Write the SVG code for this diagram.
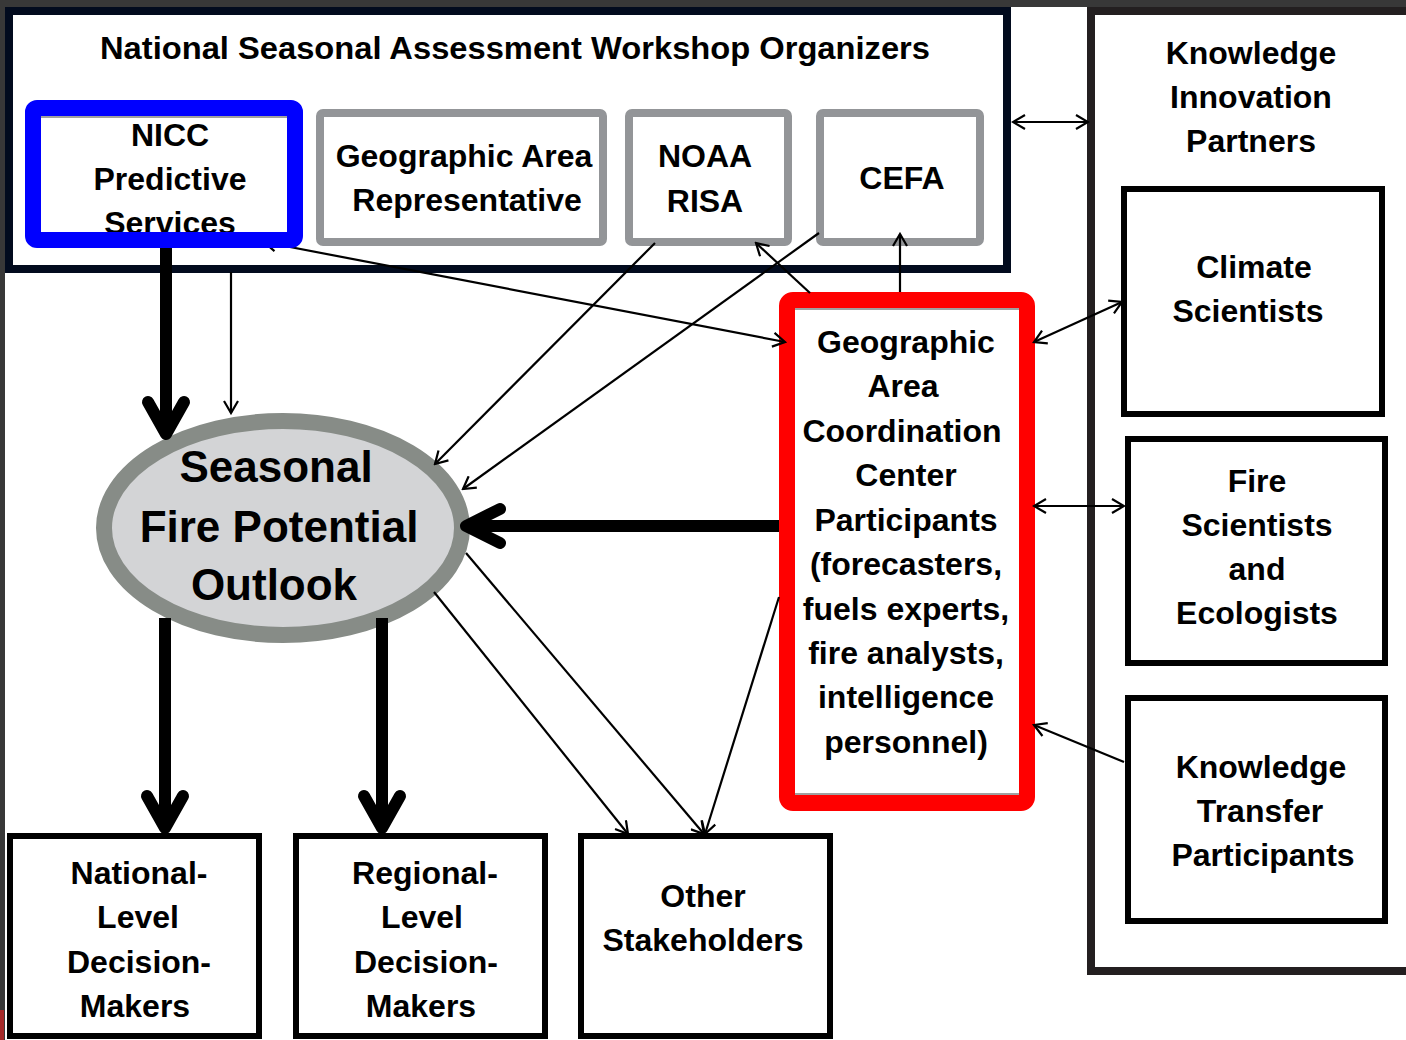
<svg xmlns="http://www.w3.org/2000/svg" width="1406" height="1040" viewBox="0 0 1406 1040">
<style>
.t{font-family:"Liberation Sans",Arial,sans-serif;font-weight:bold;font-size:32px;text-anchor:middle;fill:#000}
.big{font-size:44px}
.gray{fill:#fff;stroke:#939598;stroke-width:8}
.blk{fill:#fff;stroke:#000;stroke-width:6}
.thin{fill:none;stroke:#000;stroke-width:2.2}
.thick{fill:none;stroke:#000;stroke-width:12;stroke-linecap:round;stroke-linejoin:round}
.shaft{fill:none;stroke:#000;stroke-width:12}
</style>
<defs>
<marker id="ah" viewBox="-14 -8 16 16" refX="0" refY="0" markerWidth="16" markerHeight="16" markerUnits="userSpaceOnUse" orient="auto-start-reverse">
<path d="M-12,-7 L0,0 L-12,7" fill="none" stroke="#000" stroke-width="2.2"/>
</marker>
</defs>
<rect x="0" y="0" width="1406" height="1040" fill="#fff"/>
<rect x="0" y="0" width="1406" height="7" fill="#383838"/>
<rect x="0" y="0" width="5" height="1040" fill="#383838"/>
<rect x="0" y="1010" width="4" height="30" fill="#a52a2a"/>

<g id="organizers">
<rect x="9" y="11" width="998" height="258" fill="#fff" stroke="#020b1e" stroke-width="8"/>
<text class="t" x="515" y="59" font-size="33" textLength="830" lengthAdjust="spacingAndGlyphs">National Seasonal Assessment Workshop Organizers</text>
</g>

<g id="knowledge-innovation">
<rect x="1091" y="11" width="340" height="960" fill="#fff" stroke="#231f20" stroke-width="8"/>
<text class="t" x="1251" y="64">Knowledge</text>
<text class="t" x="1251" y="108">Innovation</text>
<text class="t" x="1251" y="152">Partners</text>
</g>

<g id="ga-rep">
<rect class="gray" x="320" y="113" width="283" height="129" rx="3"/>
<text class="t" x="464" y="167">Geographic Area</text>
<text class="t" x="467" y="211">Representative</text>
</g>
<g id="noaa-risa">
<rect class="gray" x="629" y="113" width="159" height="129" rx="3"/>
<text class="t" x="705" y="167">NOAA</text>
<text class="t" x="705" y="212">RISA</text>
</g>
<g id="cefa">
<rect class="gray" x="820" y="113" width="160" height="129" rx="3"/>
<text class="t" x="902" y="189">CEFA</text>
</g>

<g id="gacc">
<rect x="787" y="300" width="240" height="503" rx="6" fill="#fff" stroke="#ff0000" stroke-width="16"/>
<line x1="795" y1="309" x2="1019" y2="309" stroke="#a0a0a0" stroke-width="2"/>
<line x1="795" y1="794" x2="1019" y2="794" stroke="#a0a0a0" stroke-width="2"/>
<text class="t" x="906" y="353">Geographic</text>
<text class="t" x="903" y="397">Area</text>
<text class="t" x="902" y="442">Coordination</text>
<text class="t" x="906" y="486">Center</text>
<text class="t" x="906" y="531">Participants</text>
<text class="t" x="906" y="575">(forecasters,</text>
<text class="t" x="906" y="620">fuels experts,</text>
<text class="t" x="906" y="664">fire analysts,</text>
<text class="t" x="906" y="708">intelligence</text>
<text class="t" x="906" y="753">personnel)</text>
</g>

<g id="outlook">
<ellipse cx="283" cy="528" rx="179" ry="107" fill="#d3d4d6" stroke="#878c87" stroke-width="16"/>
<text class="t big" x="276" y="482">Seasonal</text>
<text class="t big" x="279" y="542">Fire Potential</text>
<text class="t big" x="274" y="600">Outlook</text>
</g>

<g id="climate">
<rect class="blk" x="1124" y="189" width="258" height="225"/>
<text class="t" x="1254" y="278">Climate</text>
<text class="t" x="1248" y="322">Scientists</text>
</g>
<g id="fire-sci">
<rect class="blk" x="1128" y="439" width="257" height="224"/>
<text class="t" x="1257" y="492">Fire</text>
<text class="t" x="1257" y="536">Scientists</text>
<text class="t" x="1257" y="580">and</text>
<text class="t" x="1257" y="624">Ecologists</text>
</g>
<g id="kt">
<rect class="blk" x="1128" y="698" width="257" height="223"/>
<text class="t" x="1261" y="778">Knowledge</text>
<text class="t" x="1260" y="822">Transfer</text>
<text class="t" x="1263" y="866">Participants</text>
</g>

<g id="national">
<rect class="blk" x="10" y="836" width="249" height="200"/>
<text class="t" x="139" y="884">National-</text>
<text class="t" x="138" y="928">Level</text>
<text class="t" x="139" y="973">Decision-</text>
<text class="t" x="135" y="1017">Makers</text>
</g>
<g id="regional">
<rect class="blk" x="296" y="836" width="249" height="200"/>
<text class="t" x="425" y="884">Regional-</text>
<text class="t" x="422" y="928">Level</text>
<text class="t" x="426" y="973">Decision-</text>
<text class="t" x="421" y="1017">Makers</text>
</g>
<g id="other">
<rect class="blk" x="581" y="836" width="249" height="200"/>
<text class="t" x="703" y="907">Other</text>
<text class="t" x="703" y="951">Stakeholders</text>
</g>

<g id="connectors">
<line class="thin" x1="231" y1="272" x2="231" y2="413" marker-end="url(#ah)"/>
<line class="thin" x1="655" y1="243" x2="435" y2="464" marker-end="url(#ah)"/>
<line class="thin" x1="819" y1="233" x2="463" y2="489" marker-end="url(#ah)"/>
<line class="thin" x1="264" y1="242" x2="785" y2="342" marker-start="url(#ah)" marker-end="url(#ah)"/>
<line class="thin" x1="810" y1="293" x2="756" y2="243" marker-end="url(#ah)"/>
<line class="thin" x1="900" y1="292" x2="900" y2="234" marker-end="url(#ah)"/>
<line class="thin" x1="1013" y1="122" x2="1088" y2="122" marker-start="url(#ah)" marker-end="url(#ah)"/>
<line class="thin" x1="1034" y1="342" x2="1122" y2="302" marker-start="url(#ah)" marker-end="url(#ah)"/>
<line class="thin" x1="1034" y1="506" x2="1124" y2="506" marker-start="url(#ah)" marker-end="url(#ah)"/>
<line class="thin" x1="1124" y1="762" x2="1034" y2="725" marker-end="url(#ah)"/>
<line class="thin" x1="466" y1="553" x2="704" y2="834" marker-end="url(#ah)"/>
<line class="thin" x1="434" y1="592" x2="628" y2="834" marker-end="url(#ah)"/>
<line class="thin" x1="779" y1="597" x2="705" y2="834" marker-end="url(#ah)"/>
<line class="shaft" x1="166" y1="248" x2="166" y2="430"/>
<polyline class="thick" points="148,402 166,434 184,402"/>
<line class="shaft" x1="779" y1="526" x2="472" y2="526" stroke-width="13"/>
<polyline class="thick" points="500,509 466,526 500,543"/>
<line class="shaft" x1="165" y1="618" x2="165" y2="822"/>
<polyline class="thick" points="147,796 165,828 183,796"/>
<line class="shaft" x1="382" y1="618" x2="382" y2="822" stroke="#00081f"/>
<polyline class="thick" points="364,796 382,828 400,796"/>
</g>

<g id="nicc">
<rect x="33" y="108" width="262" height="132" fill="#fff"/>
<line x1="41" y1="117" x2="287" y2="117" stroke="#a0a0a0" stroke-width="2"/>
<text class="t" x="170" y="146">NICC</text>
<text class="t" x="170" y="190">Predictive</text>
<text class="t" x="170" y="234">Services</text>
<rect x="33" y="108" width="262" height="132" rx="4" fill="none" stroke="#0000ff" stroke-width="16"/>
</g>
</svg>
